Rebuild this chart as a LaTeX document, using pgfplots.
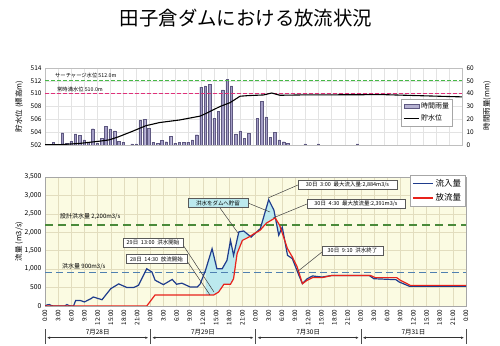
\documentclass[border=0pt]{standalone}
\usepackage{pgfplots}
\pgfplotsset{compat=1.18}
\usetikzlibrary{arrows.meta}
\usepackage{fontspec}
\setmainfont{Noto Sans CJK JP}
\definecolor{inblue}{HTML}{1F3C8C}
\definecolor{outred}{HTML}{E8221B}
\definecolor{dgreen}{HTML}{4A8A3A}
\definecolor{sblue}{HTML}{4F80B0}
\definecolor{lgreen}{HTML}{46B946}
\definecolor{pinkl}{HTML}{E0307A}
\definecolor{bgy}{HTML}{FBFBE2}
\definecolor{gridt}{HTML}{E2DDBE}
\definecolor{cyanf}{HTML}{BCE9EE}
\definecolor{rainf}{HTML}{A39DC6}
\definecolor{raine}{HTML}{5E5880}
\newcommand{\fs}[1]{\fontsize{#1}{#1}\selectfont}
\begin{document}
\begin{tikzpicture}
\path[use as bounding box] (0,0) rectangle (500bp,346bp);
\node[font=\fs{19.5}] at (246bp,328bp) {田子倉ダムにおける放流状況};

% ---------- top: rainfall (right axis) ----------
\begin{axis}[
  at={(45bp,201bp)}, anchor=south west, scale only axis,
  width=417bp, height=77bp,
  xmin=0, xmax=96, ymin=0, ymax=60,
  xtick={0,3,...,96}, xticklabels={},
  ytick={0,10,...,60},
  ytick pos=right, yticklabel pos=right,
  major tick length=0pt,
  grid=major, grid style={gray!22, line width=0.4bp},
  axis line style={gray!50},
  yticklabel style={font=\fs{6.5}, xshift=1bp},
  /pgf/number format/assume math mode=true,
  ylabel={時間雨量(mm)},
  every axis y label/.style={at={(axis description cs:1.06,0.51)}, rotate=90, anchor=center, font=\fs{7.5}},
]
\addplot[ybar, bar width=2.4bp, fill=rainf, draw=raine, line width=0.3bp] coordinates {
(1.9,2) (4,9.6) (5,1.3) (6,3) (7,8.6) (8,7.5) (9,4) (10,2) (11,12.7) (12,1.3)
(13,5.2) (14,14.3) (15,12.5) (16,11) (17,3) (18,2.3) (20,0.8) (21,0.8)
(21.9,19) (22.9,20) (23.9,13) (24.9,2) (25.9,1.3) (26.9,3.4) (27.9,2.6) (28.9,7)
(29.9,1.3) (30.9,2.3) (31.9,2.3) (32.9,2.3) (33.9,4) (34.9,8) (35.9,45) (36.9,46)
(37.9,47.5) (38.9,21) (39.9,26) (40.9,43) (41.9,51) (42.9,46) (43.9,8.6) (44.9,11)
(45.9,5) (46.9,9) (48.9,21) (49.9,34) (50.9,22) (51.9,6) (52.9,10) (53.9,4)
(54.9,2.6) (55.9,1.3) (59.9,0.8) (62.9,0.8) (71.9,0.8)
};
\end{axis}

% ---------- top: reservoir level (left axis) ----------
\begin{axis}[
  at={(45bp,201bp)}, anchor=south west, scale only axis,
  width=417bp, height=77bp,
  xmin=0, xmax=96, ymin=502, ymax=514,
  axis x line=none, axis y line*=left,
  ytick={502,504,...,514},
  major tick length=0pt,
  axis line style={gray!50},
  yticklabel style={font=\fs{6.5}},
  /pgf/number format/assume math mode=true,
  ylabel={貯水位 (標高m)},
  every axis y label/.style={at={(axis description cs:-0.062,0.5)}, rotate=90, anchor=center, font=\fs{7.5}},
  legend style={at={(0.978,0.597)}, anchor=north east, draw=gray!70, font=\fs{7}, inner sep=1.5bp, row sep=1bp},
  legend cell align=left,
  legend image code/.code={\draw[#1] (0bp,0bp) -- (15bp,0bp);},
]
\addlegendimage{legend image code/.code={\draw[fill=rainf!80, draw=raine, line width=0.3bp] (0bp,-2bp) rectangle (15bp,2bp);}}
\addlegendentry{時間雨量}
\addplot[lgreen, dash pattern=on 3.5bp off 2.5bp, line width=1bp, forget plot] coordinates {(0,512) (96,512)};
\addplot[pinkl, dash pattern=on 3.5bp off 2.5bp, line width=1bp, forget plot] coordinates {(0,510) (96,510)};
\addplot[black, line width=1.1bp] coordinates {
(0,502.05) (3.5,502.05) (8,502.25) (12.6,502.6) (14.8,502.8) (17,503.3) (20,504.1)
(23.2,505.0) (26.4,505.5) (31,505.9) (35.7,506.5) (37,506.9) (40.3,508.0) (42.6,508.6)
(44.9,509.6) (46.8,509.7) (50.3,509.8) (52.2,510.1) (54.1,509.75) (58.7,509.8)
(77.9,509.85) (93.2,509.55) (96,509.5)
};
\addlegendentry{貯水位}
\end{axis}

% ---------- bottom: flows ----------
\begin{axis}[
  at={(45bp,40bp)}, anchor=south west, scale only axis,
  width=421bp, height=129bp,
  xmin=0, xmax=96, ymin=0, ymax=3500,
  xtick={0,3,...,96},
  xticklabels={0:00,3:00,6:00,9:00,12:00,15:00,18:00,21:00,0:00,3:00,6:00,9:00,12:00,15:00,18:00,21:00,0:00,3:00,6:00,9:00,12:00,15:00,18:00,21:00,0:00,3:00,6:00,9:00,12:00,15:00,18:00,21:00,0:00},
  xticklabel style={rotate=90, anchor=east, font=\fs{6.3}},
  ytick={0,500,...,3500},
  /pgf/number format/1000 sep={,},
  /pgf/number format/assume math mode=true,
  yticklabel style={font=\fs{6.8}},
  major tick length=0pt,
  axis background/.style={fill=bgy},
  grid=major, grid style={gridt, line width=0.5bp},
  axis line style={gray!70},
  ylabel={流量 (m3/s)},
  every axis y label/.style={at={(axis description cs:-0.062,0.5)}, rotate=90, anchor=center, font=\fs{7.5}},
  legend style={at={(0.998,1.016)}, anchor=north east, draw=gray!70, font=\fs{8.5}, inner sep=2bp, row sep=2bp},
  legend cell align=left,
  legend image code/.code={\draw[#1] (0bp,0bp) -- (20bp,0bp);},
]
% stored flood volume (area between inflow and outflow)
\addplot[fill=cyanf, draw=none, forget plot] coordinates {
(36.6,300) (36.6,970) (38.1,1555) (39.2,1010) (40.4,1010) (41.5,1240) (42.3,1780)
(43,1375) (44.2,2010) (45.3,2035) (46.5,1920) (47,1870) (49.1,2100) (51,2884)
(52.2,2600) (53.3,1920) (54.1,2140) (54.6,1820) (53.5,2190) (52.5,2391) (50.5,2250)
(49,2050) (47.5,1950) (46.5,1870) (45,1780) (43.8,1420) (43,740) (42.3,590)
(40.8,590) (39.6,380) (38.5,300)
};
\addplot[sblue, dash pattern=on 7bp off 4bp, line width=1.3bp, forget plot] coordinates {(0,900) (96,900)};
\addplot[dgreen, dash pattern=on 8bp off 5bp, line width=1.3bp, forget plot] coordinates {(0,2200) (96,2200)};
\addplot[inblue, line width=1.2bp] coordinates {
(0,0) (0.5,30) (1,40) (1.5,10) (2,0) (4.5,0) (5,40) (5.5,10) (6,0) (6.5,0)
(7,150) (8,150) (9,110) (10.5,200) (11,245) (13,170) (15,470) (16.8,600)
(18.7,500) (20.2,500) (21.3,560) (23.2,1010) (24.4,920) (25.1,700) (27,580)
(29,720) (30,590) (31.2,620) (33.1,515) (34.7,515) (35.4,600) (36.6,970)
(38.1,1555) (39.2,1010) (40.4,1010) (41.5,1240) (42.3,1780) (43,1375) (44.2,2010)
(45.3,2035) (46.5,1920) (47,1870) (49.1,2100) (51,2884) (52.2,2600) (53.3,1920)
(54.1,2140) (55.3,1375) (56.4,1285) (57.9,830) (58.7,606) (59.8,740) (61,815)
(63.2,785) (65.5,830) (73.9,830) (75,740) (80,715) (80.8,650) (83.1,535) (96,535)
};
\addlegendentry{流入量}
\addplot[outred, line width=1.2bp] coordinates {
(0,0) (23.2,0) (25.1,300) (38.5,300) (39.6,380) (40.8,590) (42.3,590) (43,740)
(43.8,1420) (45,1780) (46.5,1870) (47.5,1950) (49,2050) (50.5,2250) (52.5,2391)
(53.5,2190) (55.3,1555) (56.4,1330) (57.5,1060) (58.7,606) (59.8,700) (61,770)
(63.2,770) (65.5,830) (74.2,830) (75.3,770) (80.2,770) (81,700) (83.3,560) (96,560)
};
\addlegendentry{放流量}
\end{axis}

% ---------- annotations ----------
\begin{scope}[x=1bp, y=1bp]
% top reference lines labels
\node[font=\fs{5.3}, anchor=west, inner sep=0] at (55,270) {サーチャージ水位 512.0m};
\node[font=\fs{5.3}, anchor=west, inner sep=0] at (57,257) {常時満水位 510.0m};
% bottom reference line labels
\node[font=\fs{6}, anchor=west, inner sep=0] at (60,129) {設計洪水量 2,200m3/s};
\node[font=\fs{6}, anchor=west, inner sep=0] at (62,79) {洪水量 900m3/s};
% leader lines
\draw[black!75, line width=0.5bp] (220,138) -- (238,113);
\draw[black!75, line width=0.5bp] (248,143) -- (270,134);
\draw[black!75, line width=0.5bp] (183,101) -- (214,54);
\draw[black!75, line width=0.5bp] (187,85) -- (210,51);
\draw[black!75, line width=0.5bp] (298,161) -- (268,148);
\draw[black!75, line width=0.5bp] (307,142) -- (273,128);
\draw[black!75, line width=0.5bp] (322,94) -- (297,74);
% boxes
\tikzset{abox/.style={draw=black!65, fill=white, font=\fs{5.5}, inner sep=0.5bp, minimum height=9bp, line width=0.5bp}}
\node[abox, fill=cyanf, minimum width=60bp] at (218,143) {洪水をダムへ貯留};
\node[abox, minimum width=60bp] at (153,103.5) {29日\enspace 13:00\enspace 洪水開始};
\node[abox, minimum width=61bp] at (156.5,87) {28日\enspace 14:30\enspace 放流開始};
\node[abox, minimum width=99bp] at (347.5,161.5) {30日\enspace 3:00\enspace 最大流入量:2,884m3/s};
\node[abox, minimum width=98bp] at (356,142.5) {30日\enspace 4:30\enspace 最大放流量:2,391m3/s};
\node[abox, minimum width=61bp] at (352.5,95.5) {30日\enspace 9:10\enspace 洪水終了};
% day brackets
\foreach \xa in {45,150.25,255.5,360.75,466} \draw[black!70, line width=0.5bp] (\xa,2) -- (\xa,17);
\foreach \xa/\xb/\lab in {45/150.25/7月28日,150.25/255.5/7月29日,255.5/360.75/7月30日,360.75/466/7月31日}{
  \draw[black!80, line width=0.5bp, {Latex[length=3bp,width=2.5bp]}-{Latex[length=3bp,width=2.5bp]}] (\xa+2,8.3) -- (\xb-2,8.3);
  \node[font=\fs{6.5}, inner sep=0] at ({(\xa+\xb)/2},13.3) {\lab};
}
\end{scope}
\end{tikzpicture}
\end{document}
